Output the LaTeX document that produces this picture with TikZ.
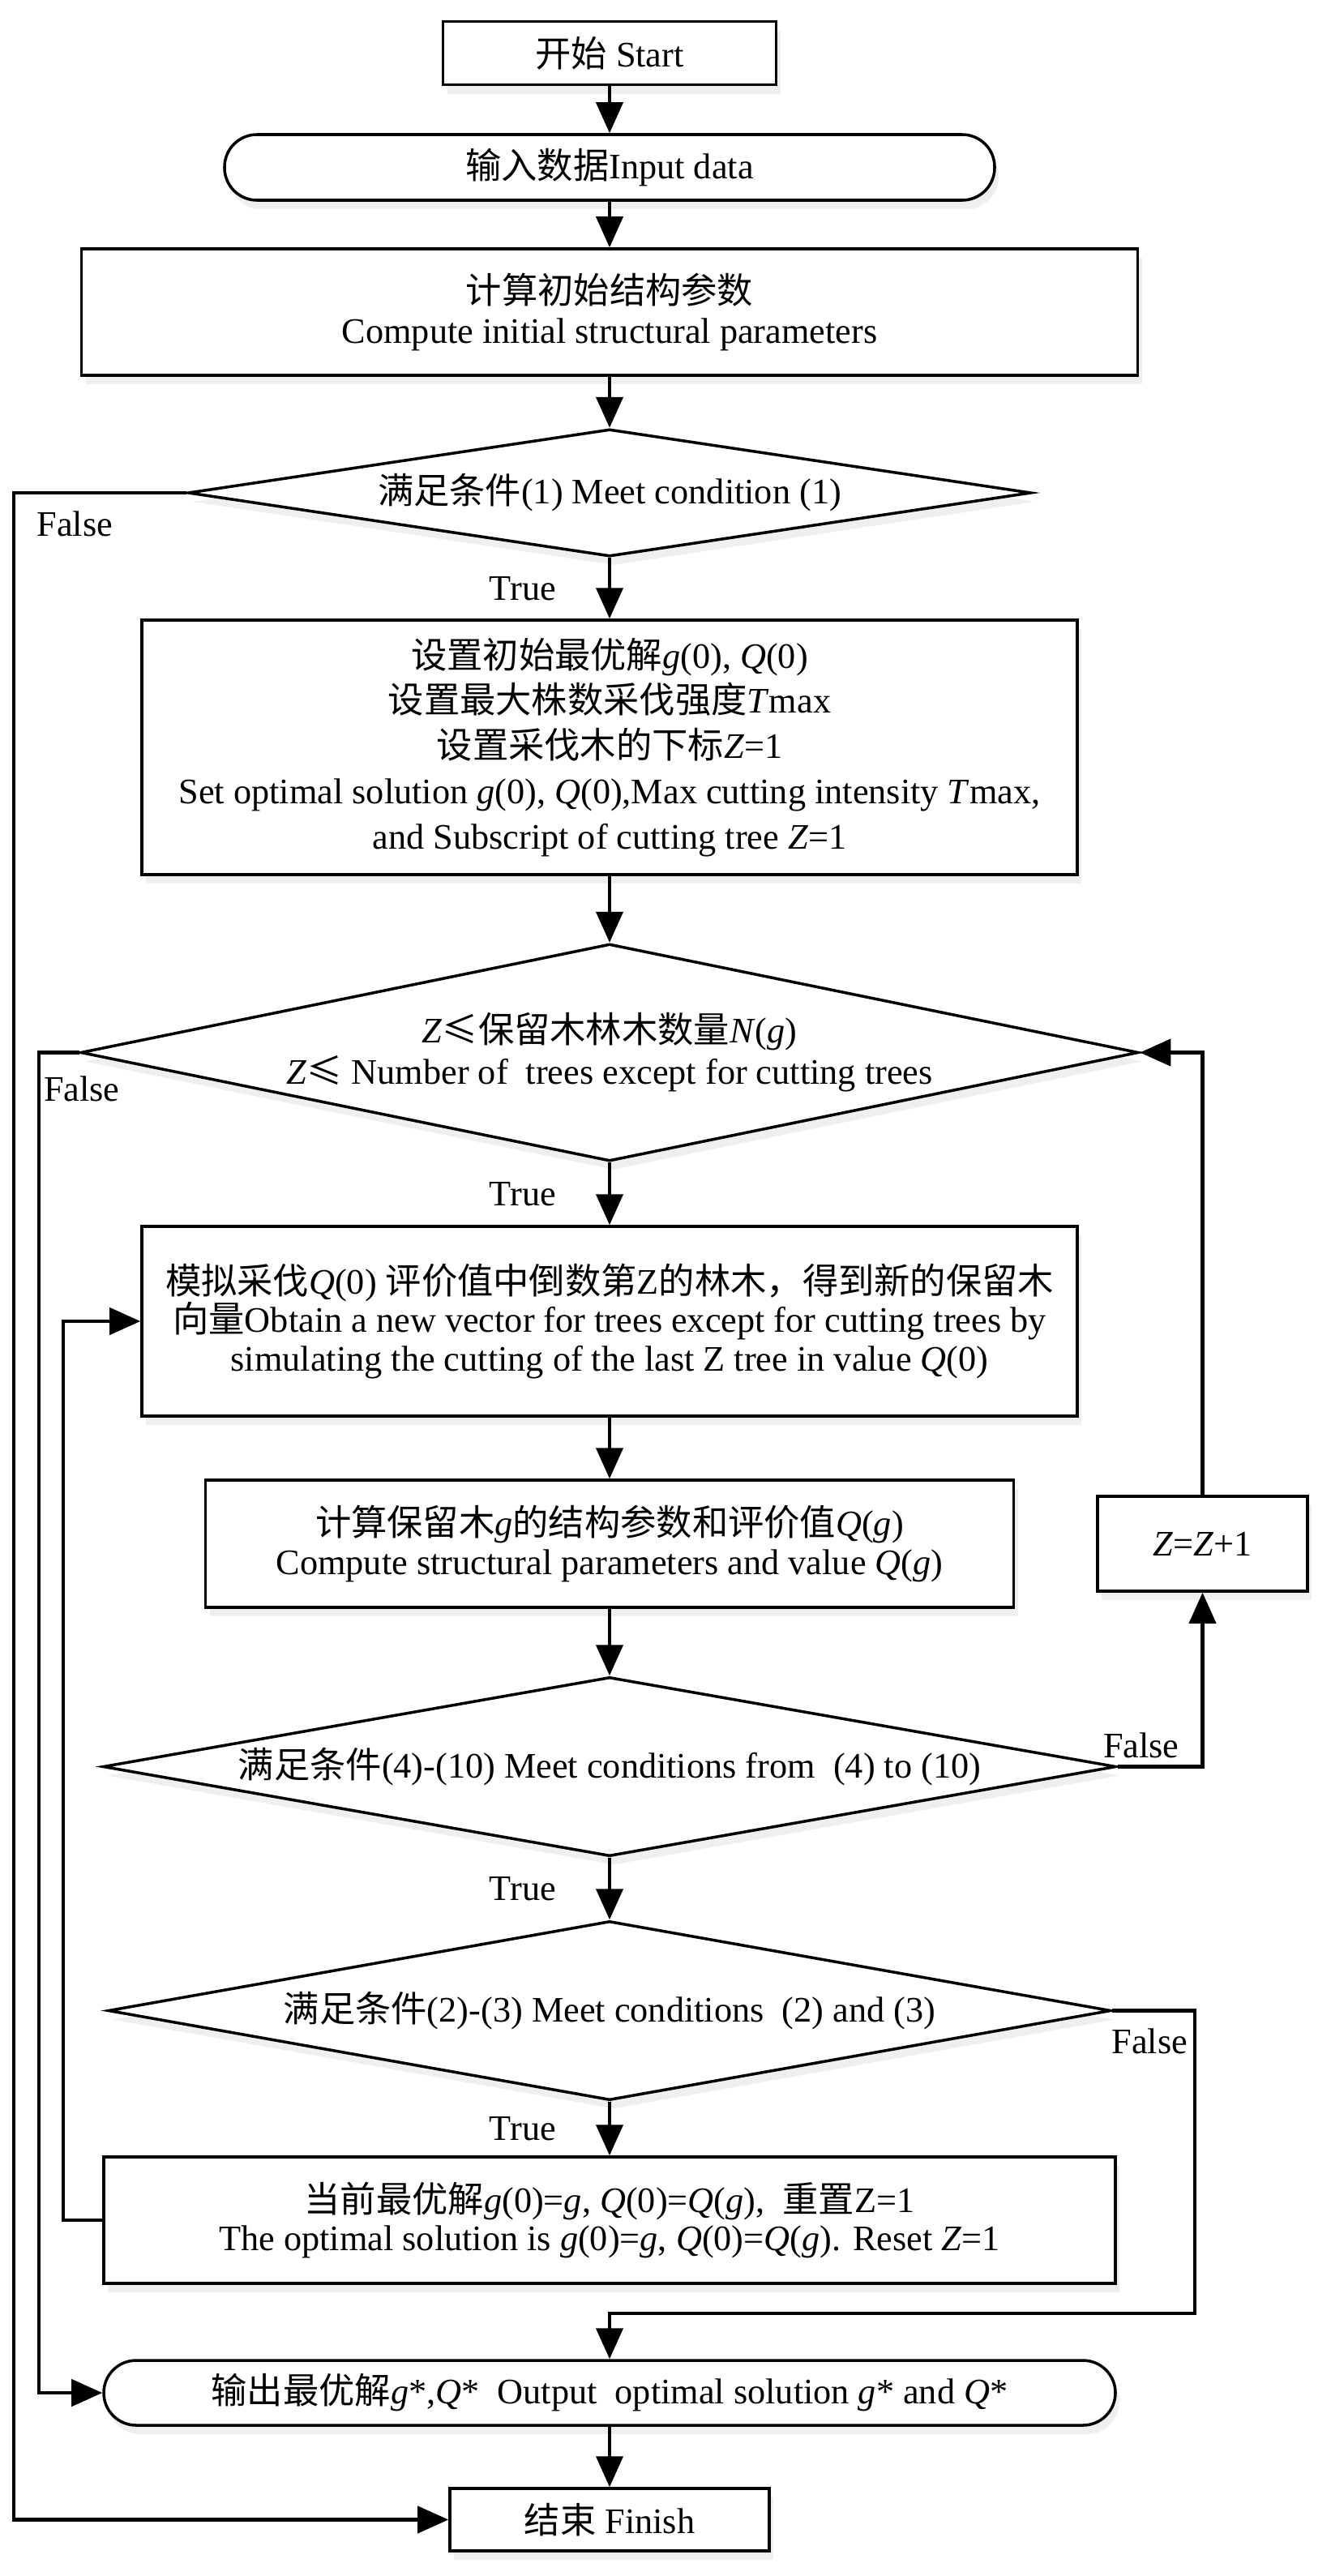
\documentclass[tikz,border=0pt]{standalone}
\usepackage{fontspec}
\setmainfont{Liberation Serif}
\newfontfamily\cjk{Noto Sans CJK SC}
\newcommand{\zh}[1]{{\cjk #1}}
\usetikzlibrary{shapes.geometric, arrows.meta, shadows}

\begin{document}
\begin{tikzpicture}[font=\fontsize{12.6}{14.2}\selectfont]
      \tikzstyle{BOXSTY} = [draw, rectangle, line width=1pt, inner sep=2pt, align=center, fill=white, drop shadow={shadow xshift=0.5mm, shadow yshift=-1.1mm, opacity=0.13}]
      \tikzstyle{TERMSTY} = [BOXSTY, rounded corners=0.4cm]
      \tikzstyle{CONDSTY} = [draw, diamond, line width=1pt, inner sep=0pt, align=center, fill=white, drop shadow={shadow xshift=0.5mm, shadow yshift=-1.1mm, opacity=0.13}]
      \tikzstyle{ARRSTY} = [line width=1.2pt, -{Triangle[length=3.8mm, width=3.3mm]}]
      \tikzstyle{TRUESTY} = [midway, left=0.64cm, inner sep=0pt]
      \tikzstyle{LBLSTY} = [inner sep=0pt]

      \useasboundingbox (0,0) rectangle (16.41,-31.78);

      %%%%% VERTEX

      \node[BOXSTY, minimum width=4.11cm, minimum height=0.78cm](start) at (7.52, -0.655) {\zh{开始} Start};

      \node[TERMSTY, minimum width=9.50cm, minimum height=0.81cm](input) at (7.52, -2.065) {\zh{输入数据}Input data};

      \node[BOXSTY, minimum width=13.03cm, minimum height=1.56cm](compute) at (7.52, -3.85) {\zh{计算初始结构参数}\\Compute initial structural parameters};

      \node[CONDSTY, minimum width=10.40cm, minimum height=1.57cm, aspect=6.6](cond1) at (7.52, -6.08) {\zh{满足条件}(1) Meet condition (1)};

      \node[BOXSTY, minimum width=11.54cm, minimum height=3.14cm, font=\fontsize{12.6}{15.9}\selectfont](init) at (7.52, -9.22) {\zh{设置初始最优解}\textit{g}(0), \textit{Q}(0)\\
            \zh{设置最大株数采伐强度}\textit{T}max\\
            \zh{设置采伐木的下标}\textit{Z}=1\\
            Set optimal solution \textit{g}(0), \textit{Q}(0),Max cutting intensity \textit{T}max,\\
            and Subscript of cutting tree \textit{Z}=1};

      \node[CONDSTY, minimum width=13.05cm, minimum height=2.68cm, aspect=4.87, font=\fontsize{12.6}{14.5}\selectfont](cond2) at (7.52, -12.985) {\textit{Z}\zh{≤保留木林木数量}\textit{N}(\textit{g})\\
            \textit{Z}\zh{≤} Number of\ \ trees except for cutting trees};

      \node[BOXSTY, minimum width=11.54cm, minimum height=2.34cm, font=\fontsize{12.6}{13.4}\selectfont](sim) at (7.52, -16.30) {\zh{模拟采伐}\textit{Q}(0) \zh{评价值中倒数第}Z\zh{的林木，得到新的保留木}\\
            \zh{向量}Obtain a new vector for trees except for cutting trees by\\
            simulating the cutting of the last Z tree in value \textit{Q}(0)};

      \node[BOXSTY, minimum width=9.97cm, minimum height=1.57cm, font=\fontsize{12.6}{13.4}\selectfont](eval) at (7.52, -19.045) {\zh{计算保留木}\textit{g}\zh{的结构参数和评价值}\textit{Q}(\textit{g})\\
            Compute structural parameters and value \textit{Q}(\textit{g})};

      \node[BOXSTY, minimum width=2.59cm, minimum height=1.17cm](inc) at (14.835, -19.045) {\textit{Z}=\textit{Z}+1};

      \node[CONDSTY, minimum width=12.50cm, minimum height=2.21cm, aspect=5.66](cond3) at (7.52, -21.795) {\zh{满足条件}(4)-(10) Meet conditions from\ \ (4) to (10)};

      \node[CONDSTY, minimum width=12.37cm, minimum height=2.21cm, aspect=5.6](cond4) at (7.52, -24.805) {\zh{满足条件}(2)-(3) Meet conditions\ \ (2) and (3)};

      \node[BOXSTY, minimum width=12.48cm, minimum height=1.56cm, font=\fontsize{12.6}{13.6}\selectfont](update) at (7.52, -27.39) {\zh{当前最优解}\textit{g}(0)=\textit{g}, \textit{Q}(0)=\textit{Q}(\textit{g}),\ \ \zh{重置}Z=1\\
            The optimal solution is \textit{g}(0)=\textit{g}, \textit{Q}(0)=\textit{Q}(\textit{g}). Reset \textit{Z}=1};

      \node[TERMSTY, minimum width=12.48cm, minimum height=0.80cm](output) at (7.52, -29.52) {\zh{输出最优解}\textit{g}*,\textit{Q}*\ \ Output\ \ optimal solution \textit{g}* and \textit{Q}*};

      \node[BOXSTY, minimum width=3.94cm, minimum height=0.77cm](finish) at (7.52, -31.085) {\zh{结束} Finish};

      %%%%% RAILS
      \coordinate (railA) at (0.17, -6.08);
      \coordinate (railB) at (0.48, -12.985);
      \coordinate (railC) at (0.78, -27.39);
      \coordinate (railD) at (14.74, -28.54);

      %%%%% EDGES
      \draw[ARRSTY]  (start) edge (input);
      \draw[ARRSTY]  (input) edge (compute);
      \draw[ARRSTY]  (compute) edge (cond1);
      \draw[ARRSTY]  (cond1) edge node[TRUESTY](t1) {True} (init);
      \draw[ARRSTY]  (init) edge (cond2);
      \draw[ARRSTY]  (cond2) edge node[TRUESTY](t2) {True} (sim);
      \draw[ARRSTY]  (sim) edge (eval);
      \draw[ARRSTY]  (eval) edge (cond3);
      \draw[ARRSTY]  (cond3) edge node[TRUESTY](t3) {True} (cond4);
      \draw[ARRSTY]  (cond4) edge node[TRUESTY](t4) {True} (update);
      \draw[ARRSTY]  (output) edge (finish);

      \draw[ARRSTY]  (cond1.west) -- (railA) |- (finish.west);
      \draw[ARRSTY]  (cond2.west) -- (railB) |- (output.west);
      \draw[ARRSTY]  (update.west) -- (railC) |- (sim.west);
      \draw[ARRSTY]  (cond3.east) -| (inc.south);
      \draw[ARRSTY]  (inc.north) |- (cond2.east);
      \draw[ARRSTY]  (cond4.east) -| (railD) -| (output.north);

      \node[LBLSTY](f1) at ([xshift=-1.38cm, yshift=-0.38cm]cond1.west) {False};
      \node[LBLSTY](f2) at ([xshift=0.03cm, yshift=-0.45cm]cond2.west) {False};
      \node[LBLSTY](f3) at ([xshift=0.29cm, yshift=0.26cm]cond3.east) {False};
      \node[LBLSTY](f4) at ([xshift=0.46cm, yshift=-0.38cm]cond4.east) {False};

      %     \node[draw=none] at (0,0) {};
\end{tikzpicture}
\end{document}
